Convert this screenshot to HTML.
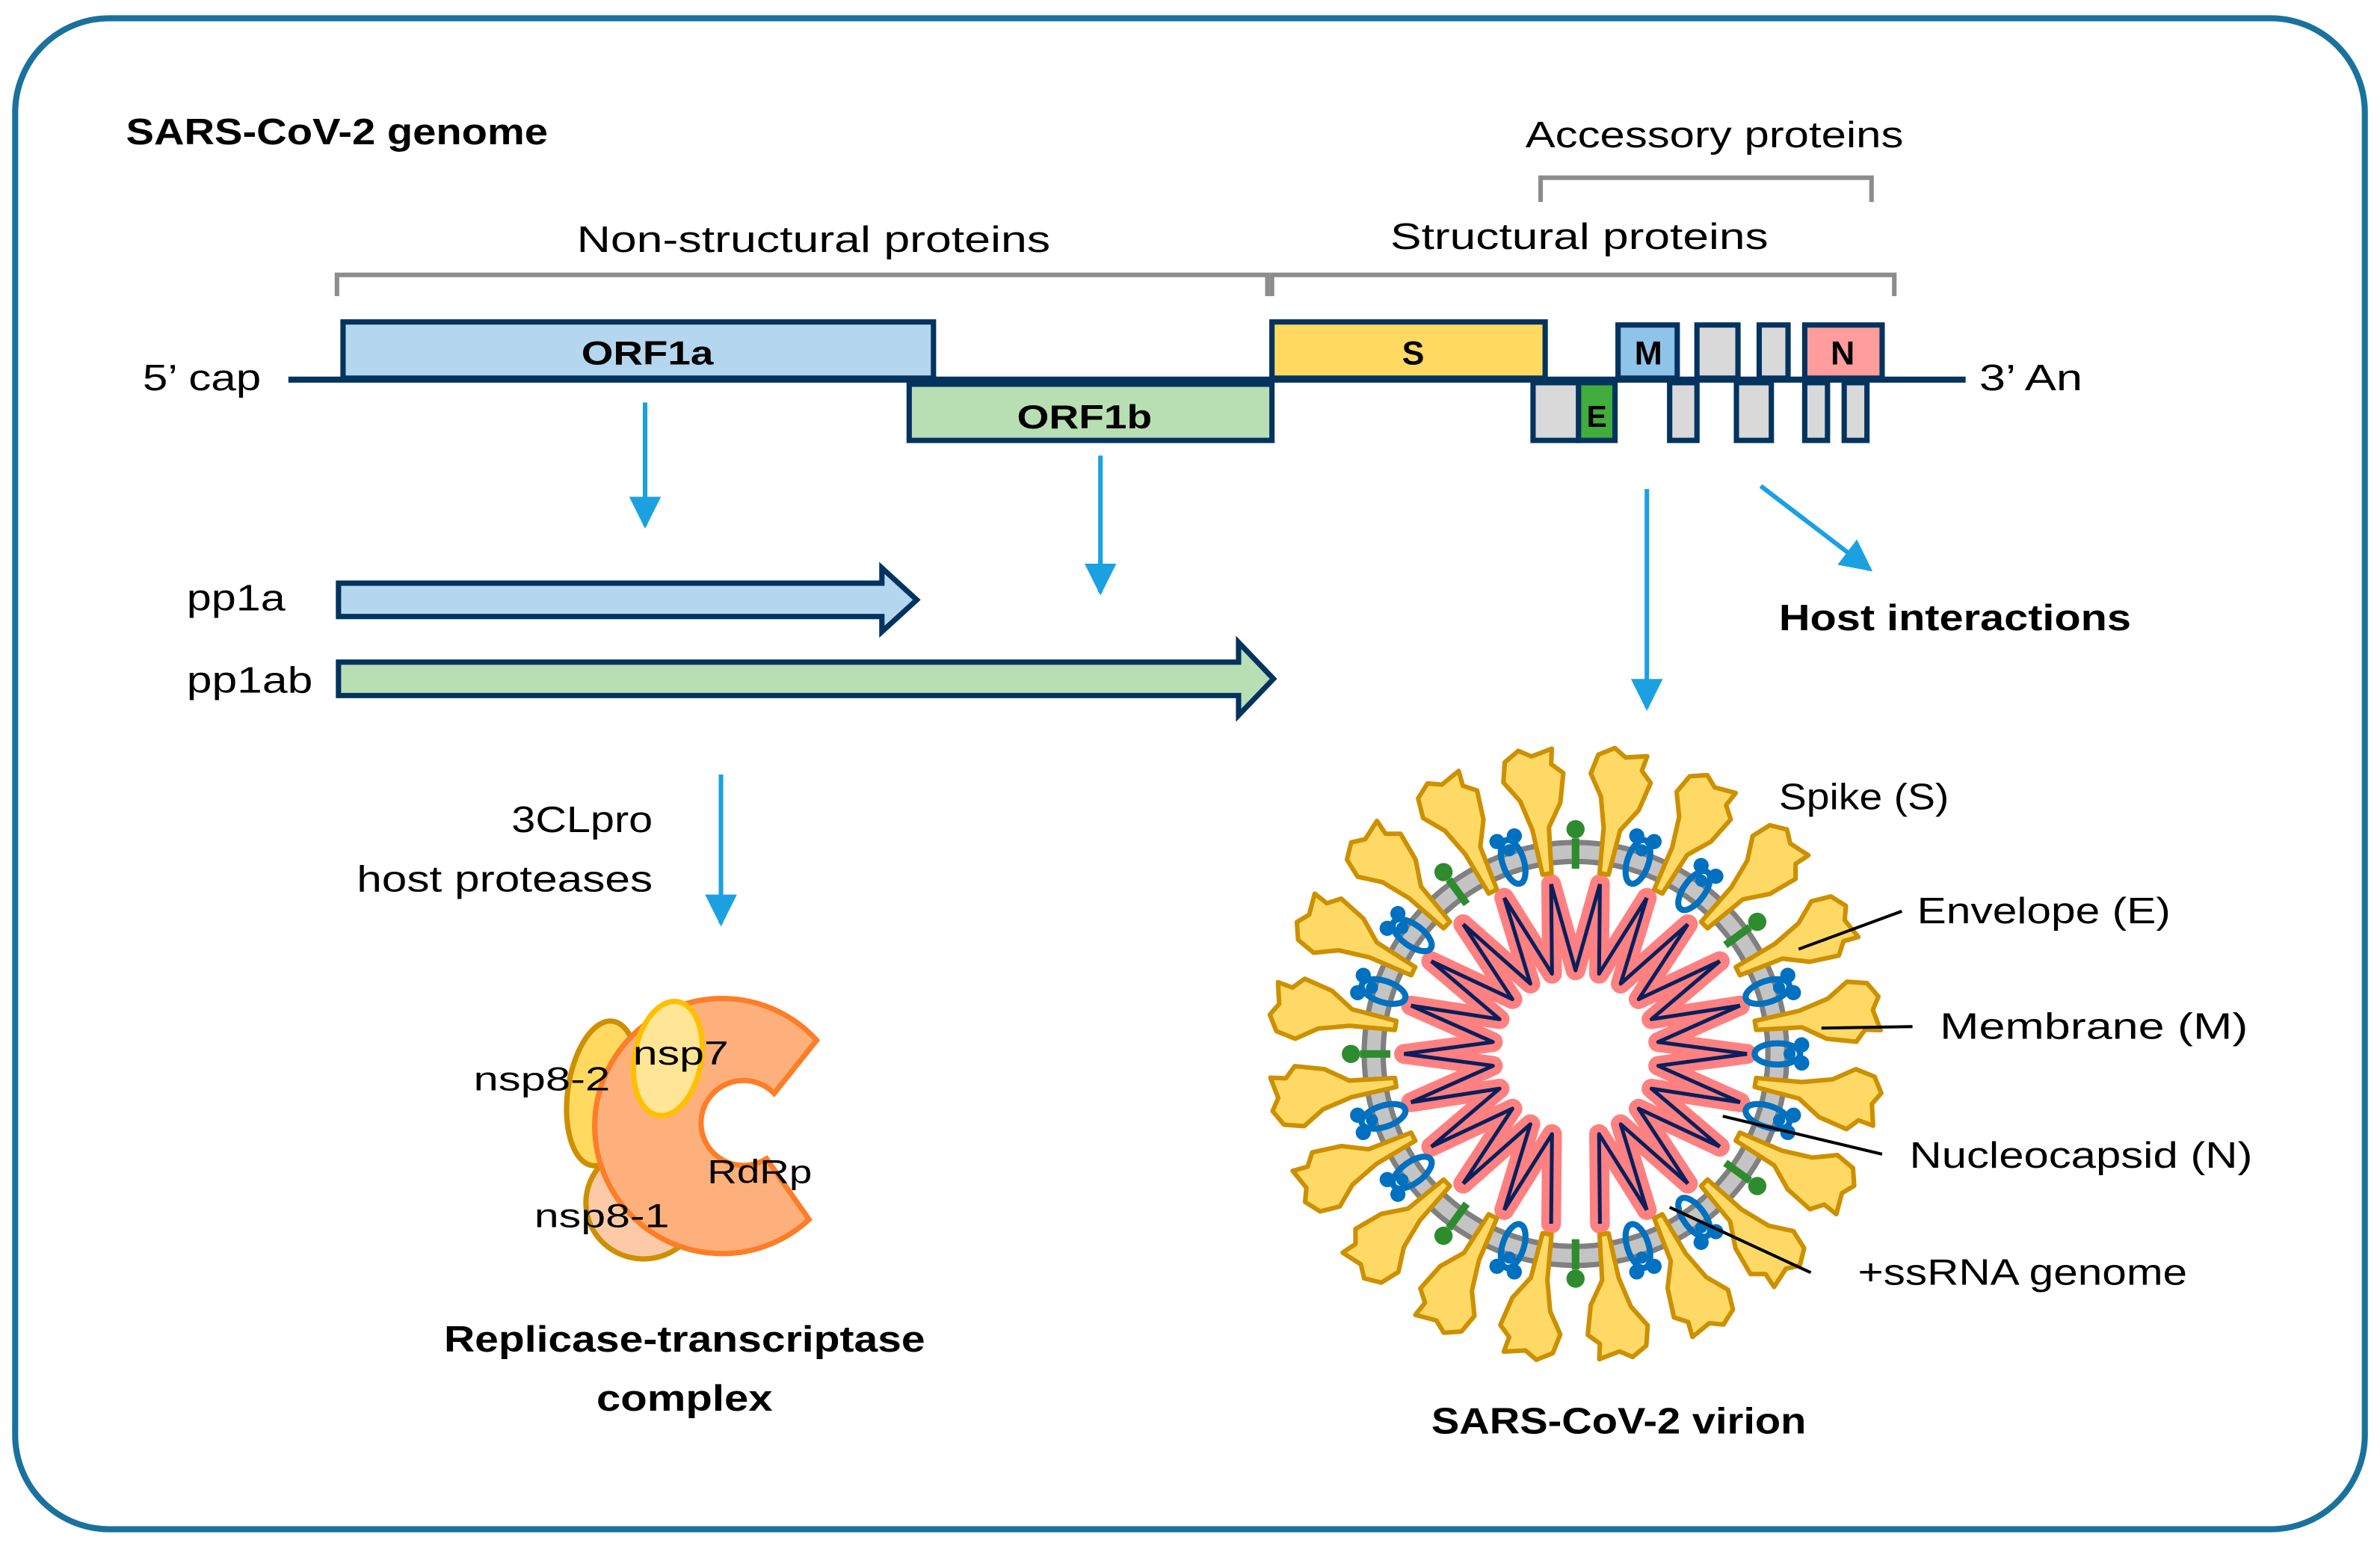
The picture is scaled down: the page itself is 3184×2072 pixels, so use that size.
<!DOCTYPE html>
<html><head><meta charset="utf-8"><style>
html,body{margin:0;padding:0;background:#fff;}
svg{display:block;}
text{font-family:"Liberation Sans",sans-serif;fill:#000;}
</style></head><body>
<svg width="3184" height="2072" viewBox="0 0 1568 1020" preserveAspectRatio="none" xmlns="http://www.w3.org/2000/svg">
<defs>
<marker id="ah" viewBox="0 0 10 10" refX="9" refY="5" markerWidth="7" markerHeight="7" orient="auto" markerUnits="strokeWidth">
<path d="M0,0 L10,5 L0,10 Z" fill="#1ba1e2"/></marker>
<path id="spike" d="M-3,-120 L3,-120 L6,-150 L16,-165 L21,-184 L14,-191 L16,-201 L2,-198 L-6,-203 L-16,-197 L-19,-184 L-10,-170 L-5,-150 Z" fill="#ffd966" stroke="#cc9000" stroke-width="3" stroke-linejoin="round"/>
<g id="mprot"><ellipse cx="0" cy="-133" rx="7" ry="15" fill="none" stroke="#0070c0" stroke-width="4"/>
<circle cx="-6" cy="-149" r="5" fill="#0070c0"/><circle cx="6" cy="-149" r="5" fill="#0070c0"/><circle cx="0" cy="-141" r="4" fill="#0070c0"/></g>
<g id="eprot"><line x1="0" y1="-122" x2="0" y2="-142" stroke="#2e8b2e" stroke-width="5"/><circle cx="0" cy="-148" r="6" fill="#2e8b2e"/></g>
<path id="toothP" d="M-16.08,-111.85 L0,-55 L16.08,-111.85" fill="none" stroke="#ff8080" stroke-width="13" stroke-linejoin="round" stroke-linecap="round"/>
<path id="toothN" d="M-16.08,-111.85 L0,-55 L16.08,-111.85" fill="none" stroke="#0a1f5c" stroke-width="2.5" stroke-linejoin="round"/>
</defs>

<rect x="10" y="12" width="1548" height="995" rx="62" fill="#fff" stroke="#19729e" stroke-width="4"/>

<text x="83" y="95" font-size="24" font-weight="bold" textLength="278" lengthAdjust="spacingAndGlyphs">SARS-CoV-2 genome</text>
<text x="1005" y="97" font-size="24" textLength="249" lengthAdjust="spacingAndGlyphs">Accessory proteins</text>
<text x="380" y="166" font-size="24" textLength="312" lengthAdjust="spacingAndGlyphs">Non-structural proteins</text>
<text x="916" y="164" font-size="24" textLength="249" lengthAdjust="spacingAndGlyphs">Structural proteins</text>

<g fill="none" stroke="#8c8c8c" stroke-width="3">
<path d="M222,195 V181 H835 V195"/>
<path d="M838,195 V181 H1248 V195"/>
<path d="M1015,133 V117 H1233 V133"/>
</g>

<line x1="190" y1="250" x2="1295" y2="250" stroke="#03335f" stroke-width="4"/>
<g stroke="#03335f" stroke-width="3.5">
<rect x="226" y="212" width="389" height="37" fill="#b4d7ef"/>
<rect x="599" y="253" width="239" height="37" fill="#b8dfb3"/>
<rect x="838" y="212" width="180" height="37" fill="#ffd960"/>
<rect x="1066" y="214" width="39" height="35" fill="#8fc3e8"/>
<rect x="1118" y="214" width="27" height="35" fill="#d9d9d9"/>
<rect x="1159" y="214" width="19" height="35" fill="#d9d9d9"/>
<rect x="1189" y="214" width="51" height="35" fill="#ff9c9c"/>
<rect x="1010" y="252" width="30" height="38" fill="#d9d9d9"/>
<rect x="1040" y="252" width="24" height="38" fill="#41ad3c"/>
<rect x="1100" y="252" width="18" height="38" fill="#d9d9d9"/>
<rect x="1144" y="252" width="23" height="38" fill="#d9d9d9"/>
<rect x="1189" y="252" width="15" height="38" fill="#d9d9d9"/>
<rect x="1215" y="252" width="15" height="38" fill="#d9d9d9"/>
</g>
<text x="383" y="240" font-size="22" font-weight="bold" textLength="87" lengthAdjust="spacingAndGlyphs">ORF1a</text>
<text x="670" y="282" font-size="22" font-weight="bold" textLength="89" lengthAdjust="spacingAndGlyphs">ORF1b</text>
<text x="931" y="240" font-size="22" font-weight="bold" text-anchor="middle">S</text>
<text x="1086" y="240" font-size="22" font-weight="bold" text-anchor="middle">M</text>
<text x="1214" y="240" font-size="22" font-weight="bold" text-anchor="middle">N</text>
<text x="1052" y="281" font-size="20" font-weight="bold" text-anchor="middle">E</text>
<text x="94" y="257" font-size="24" textLength="78" lengthAdjust="spacingAndGlyphs">5’ cap</text>
<text x="1304" y="257" font-size="24" textLength="68" lengthAdjust="spacingAndGlyphs">3’ An</text>

<g stroke="#1ba1e2" stroke-width="3" fill="none" marker-end="url(#ah)">
<line x1="425" y1="265" x2="425" y2="346"/>
<line x1="725" y1="300" x2="725" y2="390"/>
<line x1="1085" y1="322" x2="1085" y2="466"/>
<line x1="1160" y1="320" x2="1232" y2="375"/>
<line x1="475" y1="510" x2="475" y2="608"/>
</g>

<path d="M223,384 H581 V374 L604,395 L581,416 V406 H223 Z" fill="#b4d7ef" stroke="#03335f" stroke-width="3.5"/>
<path d="M223,436 H816 V423 L839,447 L816,471 V458 H223 Z" fill="#b8dfb3" stroke="#03335f" stroke-width="3.5"/>
<text x="123" y="402" font-size="24" textLength="65" lengthAdjust="spacingAndGlyphs">pp1a</text>
<text x="123" y="456" font-size="24" textLength="83" lengthAdjust="spacingAndGlyphs">pp1ab</text>
<text x="1172" y="415" font-size="24" font-weight="bold" textLength="232" lengthAdjust="spacingAndGlyphs">Host interactions</text>
<text x="430" y="548" font-size="24" text-anchor="end" textLength="93" lengthAdjust="spacingAndGlyphs">3CLpro</text>
<text x="430" y="587" font-size="24" text-anchor="end" textLength="195" lengthAdjust="spacingAndGlyphs">host proteases</text>

<!-- replicase -->
<ellipse cx="397" cy="720" rx="23" ry="48" fill="#ffd960" stroke="#cc9000" stroke-width="3.5" transform="rotate(8 397 720)"/>
<ellipse cx="424" cy="792" rx="38" ry="37" fill="#fdcaa8" stroke="#cc9000" stroke-width="3.5"/>
<path d="M538,685 A84,84 0 1,0 533,803 L505,763 A28,28 0 1,1 510,720 Z" fill="#fdb07c" stroke="#fd7d28" stroke-width="3.5"/>
<ellipse cx="440" cy="697" rx="22" ry="38" fill="#ffe596" stroke="#ffc000" stroke-width="3.5" transform="rotate(10 440 697)"/>
<text x="312" y="718" font-size="22" textLength="90" lengthAdjust="spacingAndGlyphs">nsp8-2</text>
<text x="417" y="701" font-size="22" textLength="63" lengthAdjust="spacingAndGlyphs">nsp7</text>
<text x="466" y="779" font-size="22" textLength="69" lengthAdjust="spacingAndGlyphs">RdRp</text>
<text x="352" y="808" font-size="22" textLength="89" lengthAdjust="spacingAndGlyphs">nsp8-1</text>
<text x="451" y="890" font-size="24" font-weight="bold" text-anchor="middle" textLength="317" lengthAdjust="spacingAndGlyphs">Replicase-transcriptase</text>
<text x="451" y="929" font-size="24" font-weight="bold" text-anchor="middle" textLength="116" lengthAdjust="spacingAndGlyphs">complex</text>

<!-- virion -->
<g transform="translate(1038,694)">
<circle cx="0" cy="0" r="133" fill="none" stroke="#808080" stroke-width="16"/>
<circle cx="0" cy="0" r="133" fill="none" stroke="#c4c4c4" stroke-width="9"/>
<g>
<use href="#toothP" transform="rotate(0)"/><use href="#toothP" transform="rotate(16.36)"/><use href="#toothP" transform="rotate(32.73)"/><use href="#toothP" transform="rotate(49.09)"/><use href="#toothP" transform="rotate(65.45)"/><use href="#toothP" transform="rotate(81.82)"/><use href="#toothP" transform="rotate(98.18)"/><use href="#toothP" transform="rotate(114.55)"/><use href="#toothP" transform="rotate(130.91)"/><use href="#toothP" transform="rotate(147.27)"/><use href="#toothP" transform="rotate(163.64)"/><use href="#toothP" transform="rotate(196.36)"/><use href="#toothP" transform="rotate(212.73)"/><use href="#toothP" transform="rotate(229.09)"/><use href="#toothP" transform="rotate(245.45)"/><use href="#toothP" transform="rotate(261.82)"/><use href="#toothP" transform="rotate(278.18)"/><use href="#toothP" transform="rotate(294.55)"/><use href="#toothP" transform="rotate(310.91)"/><use href="#toothP" transform="rotate(327.27)"/><use href="#toothP" transform="rotate(343.64)"/>
<use href="#toothN" transform="rotate(0)"/><use href="#toothN" transform="rotate(16.36)"/><use href="#toothN" transform="rotate(32.73)"/><use href="#toothN" transform="rotate(49.09)"/><use href="#toothN" transform="rotate(65.45)"/><use href="#toothN" transform="rotate(81.82)"/><use href="#toothN" transform="rotate(98.18)"/><use href="#toothN" transform="rotate(114.55)"/><use href="#toothN" transform="rotate(130.91)"/><use href="#toothN" transform="rotate(147.27)"/><use href="#toothN" transform="rotate(163.64)"/><use href="#toothN" transform="rotate(196.36)"/><use href="#toothN" transform="rotate(212.73)"/><use href="#toothN" transform="rotate(229.09)"/><use href="#toothN" transform="rotate(245.45)"/><use href="#toothN" transform="rotate(261.82)"/><use href="#toothN" transform="rotate(278.18)"/><use href="#toothN" transform="rotate(294.55)"/><use href="#toothN" transform="rotate(310.91)"/><use href="#toothN" transform="rotate(327.27)"/><use href="#toothN" transform="rotate(343.64)"/>
</g>
<use href="#eprot" transform="rotate(0)"/><use href="#mprot" transform="rotate(18)"/><use href="#mprot" transform="rotate(36)"/><use href="#eprot" transform="rotate(54)"/><use href="#mprot" transform="rotate(72)"/><use href="#mprot" transform="rotate(90)"/><use href="#mprot" transform="rotate(108)"/><use href="#eprot" transform="rotate(126)"/><use href="#mprot" transform="rotate(144)"/><use href="#mprot" transform="rotate(162)"/><use href="#eprot" transform="rotate(180)"/><use href="#mprot" transform="rotate(198)"/><use href="#eprot" transform="rotate(216)"/><use href="#mprot" transform="rotate(234)"/><use href="#mprot" transform="rotate(252)"/><use href="#eprot" transform="rotate(270)"/><use href="#mprot" transform="rotate(288)"/><use href="#mprot" transform="rotate(306)"/><use href="#eprot" transform="rotate(324)"/><use href="#mprot" transform="rotate(342)"/>
<use href="#spike" transform="rotate(9)"/><use href="#spike" transform="rotate(27)"/><use href="#spike" transform="rotate(45)"/><use href="#spike" transform="rotate(63)"/><use href="#spike" transform="rotate(81)"/><use href="#spike" transform="rotate(99)"/><use href="#spike" transform="rotate(117)"/><use href="#spike" transform="rotate(135)"/><use href="#spike" transform="rotate(153)"/><use href="#spike" transform="rotate(171)"/><use href="#spike" transform="rotate(189)"/><use href="#spike" transform="rotate(207)"/><use href="#spike" transform="rotate(225)"/><use href="#spike" transform="rotate(243)"/><use href="#spike" transform="rotate(261)"/><use href="#spike" transform="rotate(279)"/><use href="#spike" transform="rotate(297)"/><use href="#spike" transform="rotate(315)"/><use href="#spike" transform="rotate(333)"/><use href="#spike" transform="rotate(351)"/>
</g>

<g stroke="#000" stroke-width="2">
<line x1="1185" y1="625" x2="1253" y2="600"/>
<line x1="1200" y1="677" x2="1260" y2="676"/>
<line x1="1135" y1="735" x2="1240" y2="760"/>
<line x1="1100" y1="795" x2="1193" y2="838"/>
</g>
<text x="1172" y="533" font-size="24" textLength="112" lengthAdjust="spacingAndGlyphs">Spike (S)</text>
<text x="1263" y="608" font-size="24" textLength="167" lengthAdjust="spacingAndGlyphs">Envelope (E)</text>
<text x="1278" y="684" font-size="24" textLength="203" lengthAdjust="spacingAndGlyphs">Membrane (M)</text>
<text x="1258" y="769" font-size="24" textLength="226" lengthAdjust="spacingAndGlyphs">Nucleocapsid (N)</text>
<text x="1224" y="846" font-size="24" textLength="217" lengthAdjust="spacingAndGlyphs">+ssRNA genome</text>
<text x="943" y="944" font-size="24" font-weight="bold" textLength="247" lengthAdjust="spacingAndGlyphs">SARS-CoV-2 virion</text>
</svg>
</body></html>
